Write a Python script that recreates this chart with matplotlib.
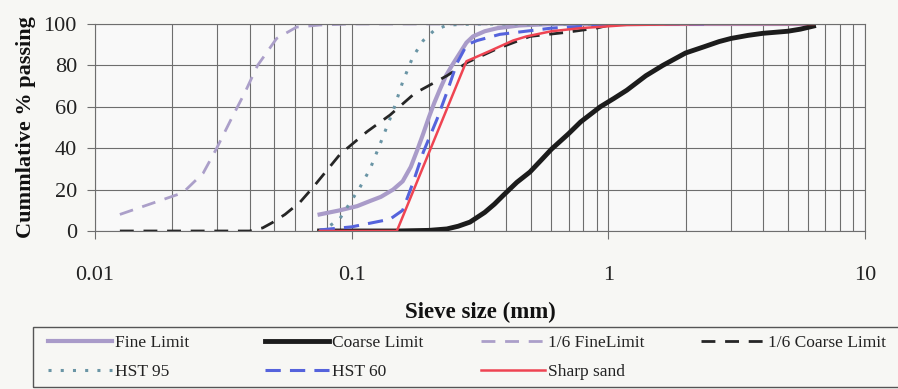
import matplotlib
matplotlib.use("Agg")
import matplotlib.pyplot as plt
from matplotlib.patches import Rectangle
from matplotlib.ticker import FixedLocator, FixedFormatter, LogLocator, NullFormatter

plt.rcParams["font.family"] = ["Liberation Serif", "DejaVu Serif"]

# Grading curves: sieve size (mm) vs cumulative % passing
fine_size = [0.075, 0.09, 0.105, 0.118, 0.13, 0.145, 0.158, 0.17, 0.18, 0.19, 0.2, 0.21, 0.22,
             0.233, 0.246, 0.264, 0.28, 0.297, 0.33, 0.37, 0.45, 0.6, 1.18, 2.36, 5.0, 6.3]
fine_pass = [8, 10, 12, 14.5, 16.5, 20, 24, 31, 39, 47, 55, 62, 68,
             75, 80, 86, 91, 94, 96.5, 98, 99.3, 100, 100, 100, 100, 100]

coarse_size = [0.075, 0.15, 0.2, 0.235, 0.26, 0.289, 0.33, 0.36, 0.388, 0.44, 0.495, 0.55, 0.6,
               0.7, 0.78, 0.93, 1.05, 1.18, 1.4, 1.63, 2.0, 2.36, 2.7, 3.0, 3.5, 4.0, 5.0, 5.6, 6.3]
coarse_pass = [0, 0, 0.3, 1, 2.3, 4.3, 9, 13, 17, 23.5, 28.5, 34.5, 39.5,
               47, 52.7, 60, 64, 68, 75, 80, 86, 89, 91.5, 93, 94.5, 95.5, 96.5, 97.5, 99]

fine16_size = [0.0125, 0.022, 0.0264, 0.0298, 0.0336, 0.0384, 0.043, 0.051, 0.061, 0.075, 0.1, 0.2, 0.6, 1.05]
fine16_pass = [8, 18.5, 28, 40, 53, 67, 80, 93, 98.5, 99.5, 100, 100, 100, 100]

coarse16_size = [0.0125, 0.025, 0.04, 0.045, 0.049, 0.055, 0.063, 0.0706, 0.09, 0.1148, 0.141, 0.176,
                 0.235, 0.284, 0.368, 0.495, 0.69, 0.9, 1.05]
coarse16_pass = [0, 0, 0, 1.5, 4, 8, 14, 21, 37, 48, 56, 66.5, 75, 81.6, 88, 94, 96, 98, 100]

hst95_size = [0.075, 0.08, 0.09, 0.1076, 0.118, 0.13, 0.145, 0.158, 0.173, 0.19, 0.21, 0.236, 0.3, 0.6, 1.18]
hst95_pass = [0, 1.5, 6, 21, 30, 43, 58, 72, 84, 92, 97, 99.5, 100, 100, 100]

hst60_size = [0.075, 0.1, 0.141, 0.158, 0.173, 0.19, 0.215, 0.235, 0.257, 0.281, 0.308, 0.378, 0.6, 1.18, 2.36]
hst60_pass = [0.5, 2, 5.7, 10, 23, 38, 54, 67, 81, 90, 92, 95, 98, 100, 100]

sand_size = [0.075, 0.15, 0.28, 0.346, 0.425, 0.48, 0.6, 0.78, 1.18, 2.36, 5.0, 6.3]
sand_pass = [0, 0, 82, 87, 92, 94, 96.5, 98, 99.5, 100, 100, 100]

x_ticks = [0.01, 0.1, 1, 10]
x_tick_labels = ["0.01", "0.1", "1", "10"]
y_ticks = [0, 20, 40, 60, 80, 100]

fig = plt.figure(figsize=(8.98, 3.89), dpi=100, facecolor="#f7f7f4")
ax = fig.add_axes([95 / 898, 158 / 389, 770 / 898, 207 / 389])
ax.set_facecolor("#f9f9f9")

l_fine, = ax.plot(fine_size, fine_pass, color="#a99bc9", lw=3.0, label="Fine Limit")
l_coarse, = ax.plot(coarse_size, coarse_pass, color="#1c1c1c", lw=3.5, label="Coarse Limit")
l_fine16, = ax.plot(fine16_size, fine16_pass, color="#ab9fc9", lw=2.0, dashes=(5, 3.5),
                    label="1/6 FineLimit")
l_coarse16, = ax.plot(coarse16_size, coarse16_pass, color="#262626", lw=2.0, dashes=(5, 3.5),
                      label="1/6 Coarse Limit")
l_hst95, = ax.plot(hst95_size, hst95_pass, color="#6a95a5", lw=2.2, dashes=(1, 3),
                   label="HST 95")
l_hst60, = ax.plot(hst60_size, hst60_pass, color="#5563dc", lw=2.2, dashes=(5, 3),
                   label="HST 60")
l_sand, = ax.plot(sand_size, sand_pass, color="#ef4452", lw=1.8, label="Sharp sand")

ax.set_xscale("log")
ax.set_xlim(0.01, 10)
ax.set_ylim(0, 100)
ax.xaxis.set_major_locator(FixedLocator(x_ticks))
ax.xaxis.set_major_formatter(FixedFormatter(x_tick_labels))
ax.xaxis.set_minor_locator(LogLocator(base=10, subs=range(2, 10)))
ax.xaxis.set_minor_formatter(NullFormatter())
ax.set_yticks(y_ticks)

ax.grid(True, which="major", color="#6e6e6e", lw=0.8)
ax.grid(True, which="minor", axis="x", color="#6e6e6e", lw=0.8)
ax.set_axisbelow(True)
for side in ["left", "bottom", "right", "top"]:
    ax.spines[side].set_color("#6e6e6e")
    ax.spines[side].set_linewidth(0.8)

ax.tick_params(axis="x", which="major", length=6, width=0.8, color="#6e6e6e",
               pad=19, labelsize=16, labelcolor="#222222")
ax.tick_params(axis="x", which="minor", length=0)
ax.tick_params(axis="y", length=6, width=0.8, color="#6e6e6e", pad=7,
               labelsize=16, labelcolor="#222222")

ax.set_xlabel("Sieve size (mm)", fontsize=16.5, fontweight="bold", color="#111111")
ax.xaxis.set_label_coords(0.5, -0.34)
ax.set_ylabel("Cummlative % passing", fontsize=16, fontweight="bold", color="#111111")
ax.yaxis.set_label_coords(-0.077, 0.5)

# legend: one column at a time, boxed by a single frame
columns = [
    (48, [l_fine, l_hst95]),
    (265, [l_coarse, l_hst60]),
    (481, [l_fine16, l_sand]),
    (701, [l_coarse16]),
]
for x0, handles in columns:
    fig.legend(handles=handles, loc="upper left", bbox_to_anchor=(x0 / 898, 1 - 335 / 389),
               frameon=False, fontsize=12.5, handlelength=3.7, handletextpad=0.15,
               borderpad=0, borderaxespad=0, labelspacing=0.75, labelcolor="#222222")

fig.patches.append(Rectangle((33 / 898, 1 - 387 / 389), 0.98, 60 / 389, transform=fig.transFigure,
                             fill=False, edgecolor="#555555", lw=1.0, clip_on=False))

fig.savefig("out.png", dpi=100, facecolor=fig.get_facecolor())
